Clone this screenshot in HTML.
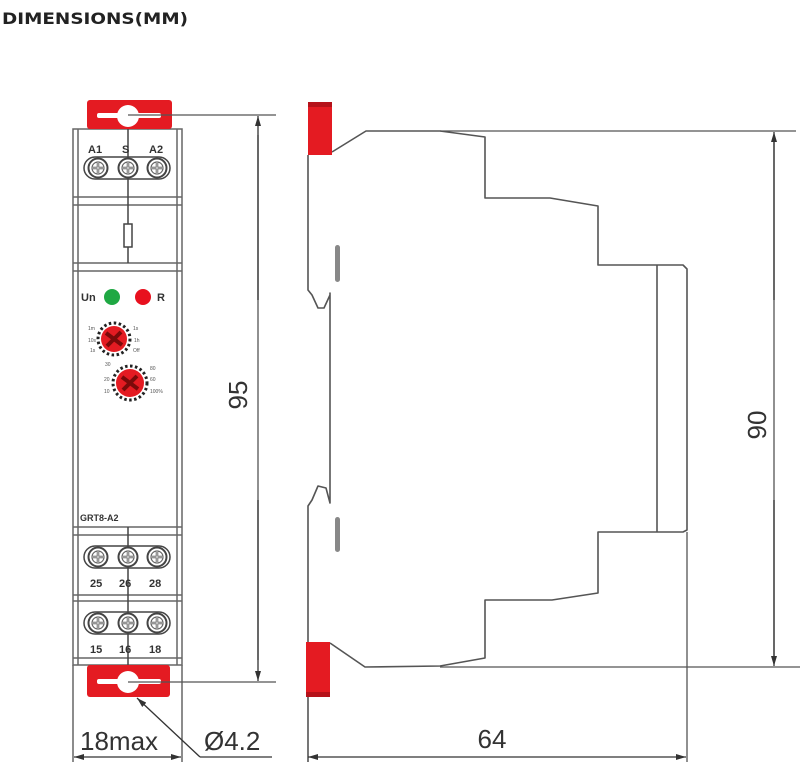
<!DOCTYPE html>
<html><head><meta charset="utf-8"><style>
html,body{margin:0;padding:0;background:#fff;width:804px;height:766px;overflow:hidden}
svg{display:block}
</style></head><body>
<svg width="804" height="766" viewBox="0 0 804 766" xmlns="http://www.w3.org/2000/svg" font-family="Liberation Sans, sans-serif">
<defs>
<marker id="ar" markerWidth="10" markerHeight="6" refX="10" refY="3" orient="auto" markerUnits="userSpaceOnUse"><path d="M0,0 L10,3 L0,6 Z" fill="#333"/></marker>
<g id="screw"><circle r="9.5" fill="#fff" stroke="#444" stroke-width="2"/><circle r="6" fill="none" stroke="#666" stroke-width="1.2"/><path d="M-6,0H6M0,-6V6" stroke="#555" stroke-width="2.5"/><path d="M-6,0H6M0,-6V6" stroke="#fff" stroke-width="0.8"/></g>
</defs>
<text x="2" y="24" font-size="16" font-weight="bold" fill="#222" font-family="DejaVu Sans, sans-serif" textLength="186" lengthAdjust="spacingAndGlyphs">DIMENSIONS(MM)</text>

<!-- FRONT VIEW -->
<g stroke="#666" stroke-width="1.5" fill="none">
<rect x="73" y="129" width="109" height="536" fill="#fff"/>
<line x1="78" y1="129" x2="78" y2="665"/>
<line x1="177" y1="129" x2="177" y2="665"/>
<line x1="73" y1="197" x2="182" y2="197"/><line x1="73" y1="205" x2="182" y2="205"/>
<line x1="73" y1="263" x2="182" y2="263"/><line x1="73" y1="271" x2="182" y2="271"/>
<line x1="73" y1="527" x2="182" y2="527"/><line x1="73" y1="535" x2="182" y2="535"/>
<line x1="73" y1="595" x2="182" y2="595"/><line x1="73" y1="601" x2="182" y2="601"/>
<line x1="73" y1="658" x2="182" y2="658"/>
<line x1="73" y1="665" x2="73" y2="762"/><line x1="182" y1="665" x2="182" y2="762"/>
</g>
<g stroke="#444" stroke-width="1.5" fill="none">
<rect x="84" y="157" width="86" height="22" rx="11"/>
<rect x="84" y="546" width="86" height="22" rx="11"/>
<rect x="84" y="612" width="86" height="22" rx="11"/>
<line x1="128" y1="116" x2="128" y2="263"/>
<rect x="124" y="224" width="8" height="23" fill="#fff"/>
<line x1="128" y1="527" x2="128" y2="682"/>
</g>
<use href="#screw" x="98" y="168"/><use href="#screw" x="128" y="168"/><use href="#screw" x="157" y="168"/>
<use href="#screw" x="98" y="557"/><use href="#screw" x="128" y="557"/><use href="#screw" x="157" y="557"/>
<use href="#screw" x="98" y="623"/><use href="#screw" x="128" y="623"/><use href="#screw" x="157" y="623"/>
<g font-size="11" font-weight="bold" fill="#333">
<text x="88" y="153">A1</text><text x="122" y="153">S</text><text x="149" y="153">A2</text>
<text x="90" y="587">25</text><text x="119" y="587">26</text><text x="149" y="587">28</text>
<text x="90" y="653">15</text><text x="119" y="653">16</text><text x="149" y="653">18</text>
<text x="81" y="301">Un</text><text x="157" y="301">R</text>
<text x="80" y="521" font-size="9">GRT8-A2</text>
</g>
<circle cx="112" cy="297" r="8" fill="#1fa843"/>
<circle cx="143" cy="297" r="8" fill="#e8101e"/>
<g>
<circle cx="114" cy="339" r="16" fill="none" stroke="#222" stroke-width="3" stroke-dasharray="2.5 2.5"/>
<circle cx="114" cy="339" r="13" fill="#e41b22"/>
<path d="M106,333 L122,345 M121,332 L107,346" stroke="#7a0a0a" stroke-width="4"/>
<circle cx="130" cy="383" r="17" fill="none" stroke="#222" stroke-width="3" stroke-dasharray="2.5 2.5"/>
<circle cx="130" cy="383" r="14" fill="#e41b22"/>
<path d="M122,377 L138,389 M137,376 L123,390" stroke="#7a0a0a" stroke-width="4"/>
<g font-size="5" fill="#555"><text x="88" y="330">1m</text><text x="88" y="342">10s</text><text x="90" y="352">1s</text><text x="133" y="330">1s</text><text x="134" y="342">1h</text><text x="133" y="352">Off</text><text x="105" y="366">30</text><text x="104" y="381">20</text><text x="104" y="393">10</text><text x="150" y="381">60</text><text x="150" y="393">100%</text><text x="150" y="370">80</text></g>
</g>
<!-- red tabs -->
<rect x="87" y="100" width="85" height="29" rx="3" fill="#e41b22"/>
<rect x="97" y="113" width="64" height="5" rx="2" fill="#fff"/>
<circle cx="128" cy="116" r="11" fill="#fff"/>
<rect x="87" y="665" width="83" height="32" rx="3" fill="#e41b22"/>
<rect x="97" y="679" width="64" height="5" rx="2" fill="#fff"/>
<circle cx="128" cy="682" r="11" fill="#fff"/>
<g stroke="#555" stroke-width="1.3" fill="none">
<line x1="128" y1="115" x2="276" y2="115"/>
<line x1="128" y1="682" x2="276" y2="682"/>
<line x1="258" y1="135" x2="258" y2="660"/>
</g>
<line x1="258" y1="300" x2="258" y2="116" stroke="#333" stroke-width="1.3" marker-end="url(#ar)"/>
<line x1="258" y1="500" x2="258" y2="681" stroke="#333" stroke-width="1.3" marker-end="url(#ar)"/>
<text transform="translate(247,395) rotate(-90)" font-size="26" fill="#333" text-anchor="middle">95</text>
<line x1="128" y1="757" x2="74" y2="757" stroke="#333" stroke-width="1.3" marker-end="url(#ar)"/>
<line x1="128" y1="757" x2="181" y2="757" stroke="#333" stroke-width="1.3" marker-end="url(#ar)"/>
<text x="80" y="750" font-size="26" fill="#333">18max</text>
<polyline points="200,757 272,757" stroke="#333" stroke-width="1.3" fill="none"/>
<line x1="200" y1="757" x2="137" y2="698" stroke="#333" stroke-width="1.3" marker-end="url(#ar)"/>
<text x="204" y="750" font-size="26" fill="#333">Ø4.2</text>

<!-- SIDE VIEW -->
<g stroke="#555" stroke-width="1.6" fill="none" stroke-linejoin="round">
<polyline points="308,155 308,290 312,295 318,308 324,308 330,295 330,293 330,503 326,488 318,486 312,500 308,506 308,762"/>
<polyline points="332,152 366,131 440,131 485,137 485,198 550,198 598,206 598,265 683,265 687,269 687,530 683,532 598,532 598,593 552,600 485,600 485,658 440,666 365,667 330,643"/>
<line x1="657" y1="265" x2="657" y2="532"/>
<line x1="440" y1="131" x2="796" y2="131" stroke-width="1.3"/>
<line x1="440" y1="667" x2="800" y2="667" stroke-width="1.3"/>
<line x1="687" y1="532" x2="687" y2="762" stroke-width="1.3"/>
<line x1="774" y1="140" x2="774" y2="660" stroke-width="1.3"/>
</g>
<rect x="335" y="245" width="5" height="37" rx="2.5" fill="#888"/>
<rect x="335" y="517" width="5" height="35" rx="2.5" fill="#888"/>
<rect x="308" y="102" width="24" height="53" fill="#e41b22"/>
<rect x="308" y="102" width="24" height="5" fill="#b5121a"/>
<rect x="306" y="642" width="24" height="55" fill="#e41b22"/>
<rect x="306" y="692" width="24" height="5" fill="#b5121a"/>
<line x1="774" y1="300" x2="774" y2="132" stroke="#333" stroke-width="1.3" marker-end="url(#ar)"/>
<line x1="774" y1="500" x2="774" y2="666" stroke="#333" stroke-width="1.3" marker-end="url(#ar)"/>
<text transform="translate(766,425) rotate(-90)" font-size="26" fill="#333" text-anchor="middle">90</text>
<line x1="497" y1="757" x2="308" y2="757" stroke="#333" stroke-width="1.3" marker-end="url(#ar)"/>
<line x1="497" y1="757" x2="686" y2="757" stroke="#333" stroke-width="1.3" marker-end="url(#ar)"/>
<text x="492" y="748" font-size="26" fill="#333" text-anchor="middle">64</text>
</svg>
</body></html>
